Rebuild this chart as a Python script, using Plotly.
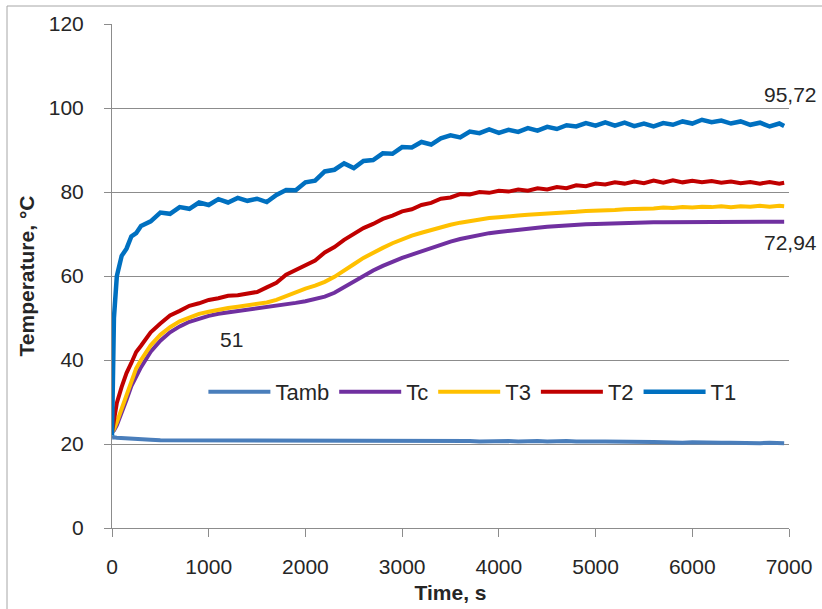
import plotly.graph_objects as go

# ---- data ----
time_s = [0, 20, 50, 100, 150, 200, 250, 300] + list(range(400, 7000, 100)) + [6950]

T1 = [22.0, 50.0, 60.0, 64.8, 66.5, 69.4, 70.2, 71.9, 73.0, 75.1,
      74.8, 76.4, 76.0, 77.5, 76.9, 78.3, 77.5, 78.6, 77.9, 78.4,
      77.6, 79.3, 80.5, 80.4, 82.3, 82.7, 84.9, 85.3, 86.8, 85.7,
      87.4, 87.6, 89.2, 89.1, 90.7, 90.6, 91.9, 91.3, 92.8, 93.5,
      93.0, 94.4, 94.0, 94.9, 94.1, 94.8, 94.3, 95.2, 94.6, 95.5,
      95.0, 95.9, 95.6, 96.4, 95.8, 96.6, 95.8, 96.5, 95.7, 96.3,
      95.6, 96.4, 96.0, 96.8, 96.3, 97.2, 96.6, 97.0, 96.3, 96.8,
      96.0, 96.5, 95.6, 96.3, 95.72]

T2 = [22.8, 26.0, 29.8, 33.6, 36.9, 39.3, 41.9, 43.4, 46.6, 48.7,
      50.6, 51.7, 52.9, 53.5, 54.3, 54.7, 55.3, 55.4, 55.9, 56.2,
      57.3, 58.4, 60.3, 61.4, 62.7, 63.7, 65.6, 66.9, 68.6, 69.9,
      71.4, 72.4, 73.6, 74.4, 75.4, 75.9, 76.9, 77.4, 78.4, 78.7,
      79.5, 79.4, 80.0, 79.8, 80.3, 80.1, 80.6, 80.3, 80.9, 80.6,
      81.2, 80.9, 81.6, 81.4, 82.0, 81.8, 82.3, 82.0, 82.5, 82.1,
      82.7, 82.2, 82.8, 82.3, 82.7, 82.3, 82.6, 82.2, 82.5, 82.1,
      82.4, 82.0, 82.4, 82.0, 82.2]

T3 = [22.8, 23.5, 25.2, 28.5, 32.0, 35.4, 38.0, 40.0, 43.5, 46.0,
      47.8, 49.2, 50.2, 51.0, 51.5, 52.0, 52.4, 52.7, 53.0, 53.3,
      53.7, 54.3, 55.2, 56.2, 57.0, 57.7, 58.6, 59.8, 61.2, 62.8,
      64.3, 65.6, 66.7, 67.8, 68.8, 69.6, 70.3, 71.0, 71.6, 72.2,
      72.7, 73.1, 73.5, 73.8, 74.0, 74.3, 74.4, 74.6, 74.7, 74.9,
      75.0, 75.2, 75.3, 75.5, 75.5, 75.7, 75.7, 75.9, 75.9, 76.1,
      76.1, 76.3, 76.2, 76.4, 76.3, 76.5, 76.4, 76.6, 76.4, 76.6,
      76.5, 76.7, 76.5, 76.7, 76.6]

Tc = [22.8, 23.2, 24.5, 27.2, 30.5, 33.8, 36.3, 38.3, 42.0, 44.6,
      46.6, 48.0, 49.1, 49.9, 50.5, 51.0, 51.3, 51.6, 51.9, 52.2,
      52.5, 52.8, 53.2, 53.6, 54.0, 54.5, 55.1, 56.0, 57.3, 58.8,
      60.1, 61.3, 62.4, 63.4, 64.3, 65.1, 65.9, 66.7, 67.5, 68.2,
      68.8, 69.3, 69.8, 70.2, 70.5, 70.8, 71.1, 71.3, 71.5, 71.7,
      71.9, 72.0, 72.2, 72.3, 72.4, 72.5, 72.6, 72.6, 72.7, 72.7,
      72.8, 72.8, 72.8, 72.9, 72.9, 72.9, 72.9, 72.9, 72.9, 72.9,
      72.9, 72.9, 72.9, 72.94, 72.94]

Tamb = [21.5, 21.6, 21.5, 21.4, 21.3, 21.2, 21.1, 21.0, 21.0, 20.9,
        20.9, 20.9, 20.8, 20.9, 20.9, 20.8, 20.9, 20.8, 20.8, 20.9,
        20.8, 20.8, 20.9, 20.8, 20.8, 20.8, 20.7, 20.8, 20.8, 20.7,
        20.8, 20.7, 20.8, 20.7, 20.7, 20.8, 20.7, 20.7, 20.8, 20.7,
        20.7, 20.7, 20.6, 20.7, 20.7, 20.7, 20.6, 20.7, 20.7, 20.6,
        20.7, 20.7, 20.6, 20.7, 20.6, 20.6, 20.6, 20.7, 20.6, 20.6,
        20.5, 20.4, 20.3, 20.3, 20.4, 20.3, 20.2, 20.3, 20.3, 20.2,
        20.3, 20.2, 20.3, 20.2, 20.2]

series_names = ["Tamb", "Tc", "T3", "T2", "T1"]
series_values = [Tamb, Tc, T3, T2, T1]
series_colors = ["#4A7EBB", "#7030A0", "#FFC000", "#C00000", "#0070C0"]
series_widths = [4, 4, 4, 4, 4.5]

# data labels (value texts as shown on the chart)
label_texts = ["95,72", "72,94", "51"]
label_x = [6950, 6950, 1240]
label_y = [103.2, 68.0, 45.0]
label_shift = [6, 6, 0]

x_ticks = [0, 1000, 2000, 3000, 4000, 5000, 6000, 7000]
y_ticks = [0, 20, 40, 60, 80, 100, 120]

FONT = "Liberation Sans, Arial, sans-serif"
TXT = "#262626"
GRID = "#8C8C8C"

fig = go.Figure()
for name, vals, col, w in zip(series_names, series_values, series_colors, series_widths):
    fig.add_trace(go.Scatter(x=time_s, y=vals, mode="lines", name=name,
                             line=dict(color=col, width=w)))

for txt, xv, yv, sh in zip(label_texts, label_x, label_y, label_shift):
    fig.add_annotation(x=xv, y=yv, xref="x", yref="y", text=txt, showarrow=False,
                       xshift=sh, font=dict(family=FONT, size=21, color=TXT))

fig.update_layout(
    width=822, height=609,
    margin=dict(l=112, r=33, t=24, b=81, autoexpand=False),
    paper_bgcolor="white", plot_bgcolor="white",
    font=dict(family=FONT, size=21, color=TXT),
    showlegend=True,
    legend=dict(orientation="h", x=0.135, y=0.27, xanchor="left", yanchor="middle",
                bgcolor="rgba(0,0,0,0)", font=dict(family=FONT, size=22, color=TXT),
                itemwidth=62, traceorder="normal"),
    shapes=[dict(type="rect", xref="paper", yref="paper",
                 x0=(7 - 112) / 677, x1=(830 - 112) / 677,
                 y0=(528 - 615) / 504, y1=(528 - 6) / 504,
                 line=dict(color="#A6A6A6", width=1), layer="below")],
)

fig.update_xaxes(range=[0, 7000], tickvals=x_ticks, showgrid=False, zeroline=False,
                 showline=True, linecolor=GRID, linewidth=1,
                 ticks="outside", ticklen=8, tickcolor=GRID,
                 ticklabelstandoff=12,
                 tickfont=dict(family=FONT, size=21, color=TXT),
                 title=dict(text="<b>Time, s</b>", standoff=8,
                            font=dict(family=FONT, size=21, color=TXT)),
                 automargin=False)
fig.update_yaxes(range=[0, 120], tickvals=y_ticks, showgrid=True, gridcolor=GRID, gridwidth=1,
                 zeroline=False, showline=True, linecolor=GRID, linewidth=1,
                 ticks="outside", ticklen=7, tickcolor=GRID,
                 ticklabelstandoff=16,
                 tickfont=dict(family=FONT, size=21, color=TXT),
                 title=dict(text="<b>Temperature, °C</b>", standoff=8,
                            font=dict(family=FONT, size=21, color=TXT)),
                 automargin=False)

fig.write_html("out.html")
